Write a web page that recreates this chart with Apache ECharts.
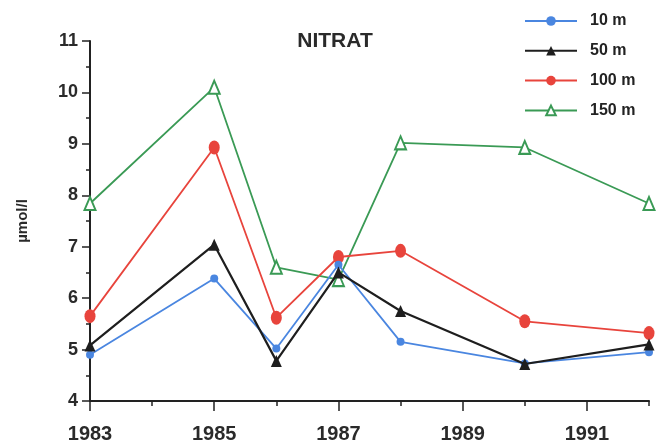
<!DOCTYPE html>
<html>
<head>
<meta charset="utf-8">
<script src="https://cdn.jsdelivr.net/npm/echarts@6/dist/echarts.min.js"></script>
<style>
html,body{margin:0;padding:0;background:#fff;}
#chart{width:656px;height:447px;}
</style>
</head>
<body>
<div id="chart"></div>
<script>
// Axis categories (every year on the axis)
const axisYears = ['1983','1984','1985','1986','1987','1988','1989','1990','1991','1992'];
// Years with observations
const obsYears = ['1983','1985','1986','1987','1988','1990','1992'];
// Series names
const seriesNames = ['10 m','50 m','100 m','150 m'];
// Values (µmol/l)
const v10  = [4.90, 6.38, 5.02, 6.65, 5.15, 4.73, 4.95];
const v50  = [5.08, 7.04, 4.78, 6.50, 5.75, 4.72, 5.10];
const v100 = [5.65, 8.93, 5.62, 6.80, 6.92, 5.55, 5.32];
const v150 = [7.84, 10.10, 6.60, 6.36, 9.02, 8.93, 7.84];

const pair = vals => obsYears.map((y, i) => [y, vals[i]]);
const oddIdx = (i) => i % 2 === 0;
const font = '"Liberation Sans", Arial, sans-serif';

const chart = echarts.init(document.getElementById('chart'));
chart.setOption({
  animation: false,
  backgroundColor: '#fff',
  title: {
    text: 'NITRAT', left: 330, top: 26, textAlign: 'center',
    textStyle: { fontFamily: font, fontWeight: 'bold', fontSize: 21, color: '#2a2a2a' }
  },
  legend: {
    orient: 'vertical', left: 519, top: 8,
    itemWidth: 52, itemHeight: 12, itemGap: 13.8,
    data: seriesNames,
    textStyle: { fontFamily: font, fontWeight: 'bold', fontSize: 16, color: '#222', padding: [0,0,0,8] }
  },
  grid: { left: 90, right: 7, top: 41, bottom: 46, containLabel: false },
  xAxis: [
    {
      type: 'category', data: axisYears, boundaryGap: false,
      axisLine: { lineStyle: { color: '#222', width: 2 } },
      axisTick: { interval: 0, length: 5, lineStyle: { color: '#222', width: 1.5 } },
      axisLabel: { show: false },
      splitLine: { show: false }
    },
    {
      type: 'category', data: axisYears, boundaryGap: false, position: 'bottom',
      axisLine: { show: false },
      axisTick: { interval: oddIdx, length: 10, lineStyle: { color: '#222', width: 1.5 } },
      axisLabel: { interval: oddIdx, margin: 23, fontFamily: font, fontWeight: 'bold', fontSize: 20, color: '#2a2a2a' },
      splitLine: { show: false }
    }
  ],
  yAxis: {
    type: 'value', min: 4, max: 11, interval: 1,
    name: 'µmol/l', nameLocation: 'middle', nameGap: 60,
    nameTextStyle: { fontFamily: font, fontWeight: 'bold', fontSize: 15, color: '#2a2a2a' },
    axisLine: { show: true, lineStyle: { color: '#222', width: 2 } },
    axisTick: { show: true, length: 8, lineStyle: { color: '#222', width: 1.5 } },
    minorTick: { show: true, splitNumber: 2, length: 4, lineStyle: { color: '#222', width: 1.5 } },
    axisLabel: { margin: 12, fontFamily: font, fontWeight: 'bold', fontSize: 18, color: '#2a2a2a' },
    splitLine: { show: false }
  },
  series: [
    {
      name: seriesNames[0], type: 'line', data: pair(v10), z: 4,
      symbol: 'circle', symbolSize: 8,
      lineStyle: { color: '#4a86e0', width: 1.8 },
      itemStyle: { color: '#4a86e0' }
    },
    {
      name: seriesNames[1], type: 'line', data: pair(v50), z: 5,
      symbol: 'triangle', symbolSize: [11, 12],
      lineStyle: { color: '#1e1e1e', width: 2.2 },
      itemStyle: { color: '#1e1e1e' }
    },
    {
      name: seriesNames[2], type: 'line', data: pair(v100), z: 3,
      symbol: 'circle', symbolSize: [11, 14],
      lineStyle: { color: '#e8443c', width: 1.8 },
      itemStyle: { color: '#e8443c' }
    },
    {
      name: seriesNames[3], type: 'line', data: pair(v150), z: 2,
      symbol: 'triangle', symbolSize: [11, 13],
      lineStyle: { color: '#3a9a55', width: 1.8 },
      itemStyle: { color: '#ffffff', borderColor: '#3a9a55', borderWidth: 2 }
    }
  ]
});
</script>
</body>
</html>
